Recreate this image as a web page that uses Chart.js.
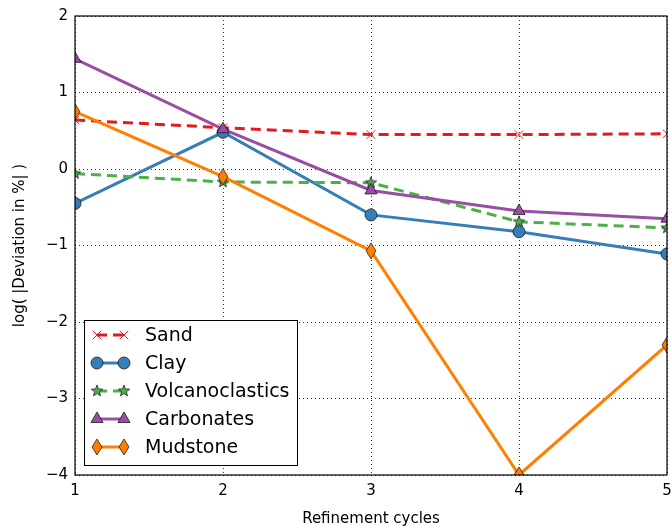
<!DOCTYPE html>
<html>
<head>
<meta charset="utf-8">
<script src="https://cdn.jsdelivr.net/npm/chart.js@4.4.0/dist/chart.umd.min.js"></script>
<style>
  html, body { margin: 0; padding: 0; background: #fff; }
  #wrap { width: 671px; height: 528px; }
</style>
</head>
<body>
<div id="wrap"><canvas id="lineChart" width="671" height="528"></canvas></div>
<script>
// refinement cycles on x
var cycles = [1, 2, 3, 4, 5];

// log(|deviation in %|) per material
var sand = [0.64, 0.54, 0.45, 0.45, 0.46];
var clay = [-0.45, 0.48, -0.60, -0.82, -1.11];
var volcanoclastics = [-0.06, -0.17, -0.18, -0.69, -0.77];
var carbonates = [1.44, 0.52, -0.28, -0.55, -0.65];
var mudstone = [0.75, -0.10, -1.07, -4.0, -2.30];

var xTicks = [1, 2, 3, 4, 5];
var yTicks = [-4, -3, -2, -1, 0, 1, 2];

var FONT = "'DejaVu Sans', sans-serif";

// matplotlib style markers that chart.js doesn't have
function makeMarker(kind, fill, r) {
    var s = Math.ceil(r * 2 + 4);
    var c = document.createElement('canvas');
    c.width = s; c.height = s;
    var g = c.getContext('2d');
    g.translate(s / 2, s / 2);
    g.beginPath();
    if (kind === 'star') {
        for (var i = 0; i < 10; i++) {
            var a = -Math.PI / 2 + i * Math.PI / 5;
            var rr = (i % 2) ? r * 0.42 : r;
            if (i === 0) g.moveTo(rr * Math.cos(a), rr * Math.sin(a));
            else g.lineTo(rr * Math.cos(a), rr * Math.sin(a));
        }
    } else {
        g.moveTo(0, -r);
        g.lineTo(r * 0.62, 0);
        g.lineTo(0, r);
        g.lineTo(-r * 0.62, 0);
    }
    g.closePath();
    g.fillStyle = fill;
    g.fill();
    g.lineWidth = 0.8;
    g.strokeStyle = '#222';
    g.stroke();
    return c;
}

var red = '#e41a1c', blue = '#377eb8', green = '#4daf4a', purple = '#984ea3', orange = '#ff7f00';
var starImg = makeMarker('star', green, 6);
var diamondImg = makeMarker('diamond', orange, 8);

function pts(ys) {
    return cycles.map(function (x, i) { return { x: x, y: ys[i] }; });
}

var datasets = [
    { label: 'Sand', data: pts(sand), borderColor: red, borderDash: [10, 6], pointStyle: 'crossRot',
      pointRadius: 6, pointBorderColor: red, pointBorderWidth: 1, pointBackgroundColor: red, order: 4 },
    { label: 'Clay', data: pts(clay), borderColor: blue, pointStyle: 'circle',
      pointRadius: 6, pointBorderColor: '#1a1a1a', pointBorderWidth: 0.8, pointBackgroundColor: blue, order: 3 },
    { label: 'Volcanoclastics', data: pts(volcanoclastics), borderColor: green, borderDash: [10, 6], pointStyle: starImg,
      pointRadius: 6, pointBorderColor: '#1a1a1a', pointBackgroundColor: green, order: 2 },
    { label: 'Carbonates', data: pts(carbonates), borderColor: purple, pointStyle: 'triangle',
      pointRadius: 7, pointBorderColor: '#1a1a1a', pointBorderWidth: 0.8, pointBackgroundColor: purple, order: 1 },
    { label: 'Mudstone', data: pts(mudstone), borderColor: orange, pointStyle: diamondImg,
      pointRadius: 8, pointBorderColor: '#1a1a1a', pointBackgroundColor: orange, order: 0 }
];
datasets.forEach(function (d) {
    d.borderWidth = 3;
    d.fill = false;
    d.tension = 0;
    d.clip = 0; // markers get cut at the axes like in matplotlib
});

// frame around the plot + matplotlib-like legend box
var framePlugin = {
    id: 'frame',
    afterDatasetsDraw: function (chart) {
        var ctx = chart.ctx, a = chart.chartArea;
        ctx.save();
        ctx.strokeStyle = '#000';
        ctx.lineWidth = 1.2;
        ctx.strokeRect(a.left, a.top, a.right - a.left, a.bottom - a.top);

        // legend
        var bx = 84, by = 320, bw = 213, bh = 145;
        ctx.fillStyle = '#fff';
        ctx.fillRect(bx, by, bw, bh);
        ctx.strokeStyle = '#000';
        ctx.lineWidth = 1;
        ctx.strokeRect(bx + 0.5, by + 0.5, bw, bh);
        ctx.font = '19px ' + FONT;
        ctx.textBaseline = 'middle';
        chart.data.datasets.forEach(function (d, i) {
            var y = 335 + i * 28;
            ctx.save();
            ctx.strokeStyle = d.borderColor;
            ctx.lineWidth = 3;
            ctx.setLineDash(d.borderDash || []);
            ctx.beginPath();
            ctx.moveTo(97, y);
            ctx.lineTo(124, y);
            ctx.stroke();
            ctx.restore();
            [97, 124].forEach(function (x) {
                ctx.save();
                ctx.fillStyle = d.pointBackgroundColor;
                ctx.strokeStyle = d.pointBorderColor;
                ctx.lineWidth = d.pointBorderWidth || 1;
                Chart.helpers.drawPoint(ctx, {
                    pointStyle: d.pointStyle, radius: d.pointRadius,
                    rotation: 0, borderWidth: d.pointBorderWidth || 1
                }, x, y);
                ctx.restore();
            });
            ctx.fillStyle = '#000';
            ctx.fillText(d.label, 145, y + 1);
        });
        ctx.restore();
    }
};

var ctx = document.getElementById('lineChart').getContext('2d');
var chart = new Chart(ctx, {
    type: 'line',
    data: { datasets: datasets },
    plugins: [framePlugin],
    options: {
        responsive: false,
        animation: false,
        events: [],
        layout: { autoPadding: false, padding: { top: 16, right: 4, left: 0, bottom: 0 } },
        plugins: { legend: { display: false }, tooltip: { enabled: false } },
        scales: {
            x: {
                type: 'linear', min: 1, max: 5,
                afterFit: function (s) { s.height = 53; s.paddingLeft = 0; s.paddingRight = 0; },
                afterBuildTicks: function (s) { s.ticks = xTicks.map(function (v) { return { value: v }; }); },
                grid: { color: '#000', lineWidth: 0.8, drawTicks: false },
                border: { display: false, dash: [1, 3] },
                ticks: { color: '#000', font: { family: FONT, size: 15, lineHeight: 2.1 }, padding: 0, maxRotation: 0 },
                title: { display: true, text: 'Refinement cycles', color: '#000',
                         font: { family: FONT, size: 15 }, padding: { top: 2, bottom: 0 } }
            },
            y: {
                type: 'linear', min: -4, max: 2,
                afterFit: function (s) { s.width = 75; s.paddingTop = 0; s.paddingBottom = 0; },
                afterBuildTicks: function (s) { s.ticks = yTicks.map(function (v) { return { value: v }; }); },
                grid: { color: '#000', lineWidth: 0.8, drawTicks: false },
                border: { display: false, dash: [1, 3] },
                ticks: { color: '#000', font: { family: FONT, size: 15 }, padding: 7,
                         callback: function (v) { return String(v).replace('-', '\u2212'); } },
                title: { display: true, text: 'log( |Deviation in %| )', color: '#000',
                         font: { family: FONT, size: 15 }, padding: { top: 11, bottom: 0 } }
            }
        }
    }
});
</script>
</body>
</html>
